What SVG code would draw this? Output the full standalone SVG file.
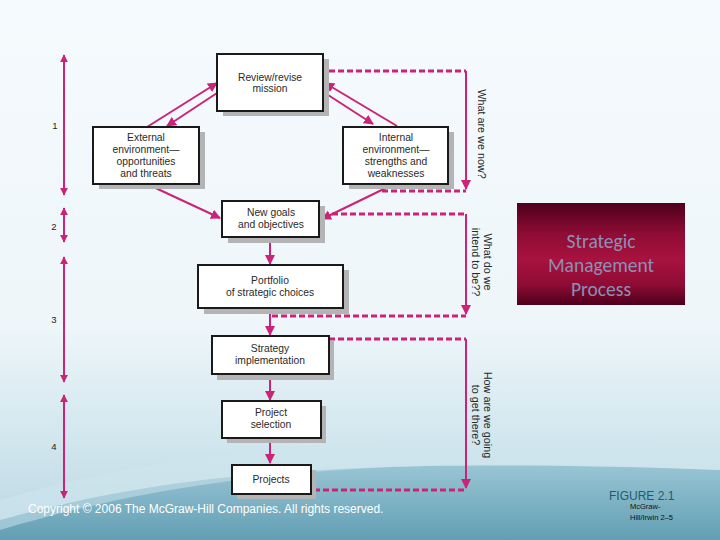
<svg xmlns="http://www.w3.org/2000/svg" width="720" height="540" viewBox="0 0 720 540">
<defs>
<linearGradient id="bg" x1="0" y1="0" x2="0" y2="1">
<stop offset="0" stop-color="#f5fafd"/>
<stop offset="0.6" stop-color="#eef6fa"/>
<stop offset="0.78" stop-color="#d6e9f0"/>
<stop offset="1" stop-color="#b9d7e2"/>
</linearGradient>
<linearGradient id="wave" x1="0" y1="0" x2="0" y2="1">
<stop offset="0" stop-color="#8fc0d0"/>
<stop offset="1" stop-color="#5394ab"/>
</linearGradient>
<linearGradient id="smp" x1="0" y1="0" x2="0" y2="1">
<stop offset="0" stop-color="#4e001c"/>
<stop offset="0.3" stop-color="#8e0c35"/>
<stop offset="0.55" stop-color="#a8123f"/>
<stop offset="0.8" stop-color="#8e0c35"/>
<stop offset="1" stop-color="#4e001c"/>
</linearGradient>
<marker id="ah" viewBox="0 0 10 10" refX="9" refY="5" markerWidth="5" markerHeight="5" orient="auto-start-reverse" markerUnits="strokeWidth">
<path d="M0,0 L10,5 L0,10 Z" fill="#cc2277"/>
</marker>
<marker id="ah2" viewBox="0 0 10 10" refX="9" refY="5" markerWidth="4" markerHeight="4" orient="auto-start-reverse" markerUnits="strokeWidth">
<path d="M0,0 L10,5 L0,10 Z" fill="#cc2277"/>
</marker>
</defs>
<style>
.box{fill:#ffffff;stroke:#1a1a1a;stroke-width:2}
.sh{fill:#b4b4b4}
.t{font-family:"Liberation Sans",Arial,sans-serif;font-size:10.3px;fill:#2a2a2a;text-anchor:middle}
.q{font-family:"Liberation Sans",Arial,sans-serif;font-size:10.8px;fill:#2a2a2a;text-anchor:middle}
.num{font-family:"Liberation Sans",Arial,sans-serif;font-size:9.5px;fill:#222;text-anchor:middle}
.c{stroke:#cc2277;stroke-width:2;fill:none}
.d{stroke:#cc2277;stroke-width:3;fill:none;stroke-dasharray:6 3}
.tt{font-family:Carlito,"Open Sans","Liberation Sans",sans-serif;font-size:19.5px;fill:#8d8fb5;text-anchor:middle}
</style>
<rect x="0" y="0" width="720" height="540" fill="url(#bg)"/>
<path d="M0,520 C150,480 300,455 720,470 L720,540 L0,540 Z" fill="url(#wave)" opacity="0.85"/>
<path d="M0,500 C200,440 450,430 720,445 L720,470 C400,455 200,470 0,530 Z" fill="#cfe6ee" opacity="0.5"/>

<g id="connectors">
<line class="c" x1="147" y1="127" x2="217" y2="83" marker-end="url(#ah)"/>
<line class="c" x1="217" y1="93" x2="167" y2="126" marker-end="url(#ah)"/>
<line class="c" x1="325" y1="93" x2="373" y2="124" marker-end="url(#ah)"/>
<line class="c" x1="397" y1="126" x2="325" y2="83" marker-end="url(#ah)"/>
<line class="c" x1="147" y1="184" x2="220" y2="218" marker-end="url(#ah)"/>
<line class="c" x1="392" y1="185" x2="322" y2="219" marker-end="url(#ah)"/>
<line class="c" x1="270" y1="237" x2="270" y2="264" marker-end="url(#ah)"/>
<line class="c" x1="270" y1="308" x2="270" y2="335" marker-end="url(#ah)"/>
<line class="c" x1="270" y1="374" x2="270" y2="400" marker-end="url(#ah)"/>
<line class="c" x1="270" y1="438" x2="270" y2="463" marker-end="url(#ah)"/>
<polyline class="d" points="329,71 466,71"/>
<line class="c" x1="466" y1="71" x2="466" y2="189" marker-end="url(#ah)"/>
<polyline class="d" points="382,191 466,191"/>
<polyline class="d" points="332,214 466,214"/>
<line class="c" x1="466" y1="214" x2="466" y2="314" marker-end="url(#ah)"/>
<polyline class="d" points="272,316 466,316"/>
<polyline class="d" points="329,339 466,339"/>
<line class="c" x1="466" y1="339" x2="466" y2="488" marker-end="url(#ah)"/>
<polyline class="d" points="314,490 466,490"/>
<line class="c" x1="64" y1="55" x2="64" y2="195" marker-start="url(#ah2)" marker-end="url(#ah2)"/>
<line class="c" x1="64" y1="208" x2="64" y2="242" marker-start="url(#ah2)" marker-end="url(#ah2)"/>
<line class="c" x1="64" y1="257" x2="64" y2="382" marker-start="url(#ah2)" marker-end="url(#ah2)"/>
<line class="c" x1="64" y1="395" x2="64" y2="498" marker-start="url(#ah2)" marker-end="url(#ah2)"/>
</g>

<g id="n-review">
<rect class="sh" x="223" y="59" width="106" height="57"/>
<rect class="box" x="217" y="54" width="106" height="57"/>
<text class="t" x="270" y="81">Review/revise</text>
<text class="t" x="270" y="92">mission</text>
</g>
<g id="n-external">
<rect class="sh" x="99" y="132" width="106" height="57"/>
<rect class="box" x="93" y="127" width="106" height="57"/>
<text class="t" x="146" y="141">External</text>
<text class="t" x="146" y="153">environment—</text>
<text class="t" x="146" y="165">opportunities</text>
<text class="t" x="146" y="177">and threats</text>
</g>
<g id="n-internal">
<rect class="sh" x="349" y="132" width="105" height="57"/>
<rect class="box" x="343" y="127" width="105" height="57"/>
<text class="t" x="396" y="141">Internal</text>
<text class="t" x="396" y="153">environment—</text>
<text class="t" x="396" y="165">strengths and</text>
<text class="t" x="396" y="177">weaknesses</text>
</g>
<g id="n-goals">
<rect class="sh" x="228" y="206" width="97" height="37"/>
<rect class="box" x="222" y="201" width="97" height="36"/>
<text class="t" x="271" y="216">New goals</text>
<text class="t" x="271" y="228">and objectives</text>
</g>
<g id="n-portfolio">
<rect class="sh" x="204" y="270" width="145" height="44"/>
<rect class="box" x="198" y="265" width="145" height="43"/>
<text class="t" x="270" y="284">Portfolio</text>
<text class="t" x="270" y="296">of strategic choices</text>
</g>
<g id="n-strategy">
<rect class="sh" x="217" y="341" width="117" height="39"/>
<rect class="box" x="212" y="336" width="117" height="38"/>
<text class="t" x="270" y="352">Strategy</text>
<text class="t" x="270" y="364">implementation</text>
</g>
<g id="n-selection">
<rect class="sh" x="227" y="406" width="99" height="37"/>
<rect class="box" x="222" y="401" width="99" height="37"/>
<text class="t" x="271" y="416">Project</text>
<text class="t" x="271" y="428">selection</text>
</g>
<g id="n-projects">
<rect class="sh" x="237" y="470" width="79" height="29"/>
<rect class="box" x="232" y="465" width="79" height="29"/>
<text class="t" x="271" y="483">Projects</text>
</g>

<g id="questions">
<text class="q" transform="translate(478,134) rotate(90)">What are we now?</text>
<text class="q" transform="translate(484,262) rotate(90)">What do we</text>
<text class="q" transform="translate(472,262) rotate(90)">intend to be??</text>
<text class="q" transform="translate(484,415) rotate(90)">How are we going</text>
<text class="q" transform="translate(472,415) rotate(90)">to get there?</text>
</g>

<g id="stages">
<text class="num" x="55" y="129">1</text>
<text class="num" x="54" y="230">2</text>
<text class="num" x="54" y="323">3</text>
<text class="num" x="54" y="450">4</text>
</g>

<g id="title">
<rect x="517" y="203" width="168" height="102" fill="url(#smp)"/>
<text class="tt" x="601" y="248">Strategic</text>
<text class="tt" x="601" y="272">Management</text>
<text class="tt" x="601" y="296">Process</text>
</g>

<text x="28" y="513" font-family="'Liberation Sans',Arial,sans-serif" font-size="12" fill="#ffffff">Copyright © 2006 The McGraw-Hill Companies. All rights reserved.</text>
<text x="609" y="500" font-family="'Liberation Sans',Arial,sans-serif" font-size="12" fill="#1a5f6e">FIGURE 2.1</text>
<text x="630" y="509" font-family="'Liberation Sans',Arial,sans-serif" font-size="7.5" fill="#111">McGraw-</text>
<text x="630" y="520" font-family="'Liberation Sans',Arial,sans-serif" font-size="7.5" fill="#111">Hill/Irwin  2–5</text>
</svg>
